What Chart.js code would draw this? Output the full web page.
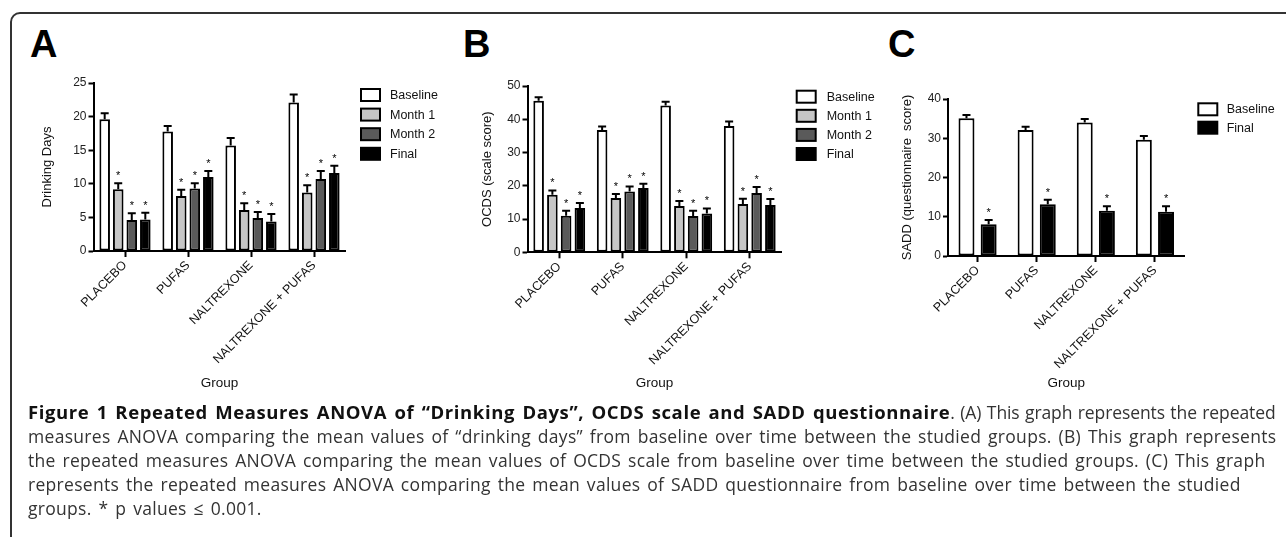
<!DOCTYPE html>
<html>
<head>
<meta charset="utf-8">
<script src="https://cdn.jsdelivr.net/npm/chart.js@4.4.1/dist/chart.umd.min.js"></script>
<style>
body { margin:0; background:#fff; width:1286px; height:537px; overflow:hidden; position:relative; font-family:'Liberation Sans', Arial, sans-serif; }
#frame { position:absolute; left:10px; top:12px; width:1400px; height:700px; border:2px solid #333; border-top-left-radius:10px; }
.letter { position:absolute; top:23px; font-weight:bold; font-size:38px; color:#000; }
canvas { position:absolute; top:0; }
#caption { position:absolute; left:28px; top:400px; font-family:'Open Sans', sans-serif; font-size:17.5px; line-height:24px; letter-spacing:0.3px; word-spacing:2px; color:#333; white-space:nowrap; }
#caption b { color:#111; font-size:18.5px; letter-spacing:0.6px; }
#caption .tight { letter-spacing:-0.1px; word-spacing:1px; }
</style>
</head>
<body>
<div id="frame"></div>
<div class="letter" style="left:30px">A</div>
<div class="letter" style="left:463px">B</div>
<div class="letter" style="left:888px">C</div>
<canvas id="chartA" width="470" height="400" style="left:0"></canvas>
<canvas id="chartB" width="470" height="400" style="left:430px"></canvas>
<canvas id="chartC" width="426" height="400" style="left:860px"></canvas>
<div id="caption"><b>Figure 1 Repeated Measures ANOVA of “Drinking Days”, OCDS scale and SADD questionnaire</b><span class="tight">. (A) This graph represents the repeated</span><br>measures ANOVA comparing the mean values of “drinking days” from baseline over time between the studied groups. (B) This graph represents<br>the repeated measures ANOVA comparing the mean values of OCDS scale from baseline over time between the studied groups. (C) This graph<br>represents the repeated measures ANOVA comparing the mean values of SADD questionnaire from baseline over time between the studied<br>groups. * p values ≤ 0.001.</div>

<script>
// groups and series
var groups = ['PLACEBO', 'PUFAS', 'NALTREXONE', 'NALTREXONE + PUFAS'];

// A: drinking days (mean and upper error)
var drinkBaseline = [19.6, 17.8, 15.7, 22.1];
var drinkBaselineErr = [0.9, 0.8, 1.1, 1.2];
var drinkMonth1 = [9.2, 8.2, 6.1, 8.7];
var drinkMonth1Err = [0.9, 0.9, 1.0, 1.1];
var drinkMonth2 = [4.6, 9.3, 4.9, 10.7];
var drinkMonth2Err = [1.0, 0.8, 0.9, 1.2];
var drinkFinal = [4.7, 11.0, 4.4, 11.6];
var drinkFinalErr = [1.0, 0.9, 1.1, 1.1];
var drinkTicks = [0, 5, 10, 15, 20, 25];

// B: OCDS scale score
var ocdsBaseline = [45.6, 36.8, 44.1, 38.0];
var ocdsBaselineErr = [1.0, 1.0, 1.2, 1.3];
var ocdsMonth1 = [17.3, 16.3, 13.9, 14.5];
var ocdsMonth1Err = [1.3, 1.2, 1.5, 1.6];
var ocdsMonth2 = [11.0, 18.3, 10.9, 17.8];
var ocdsMonth2Err = [1.5, 1.5, 1.6, 1.8];
var ocdsFinal = [13.3, 19.3, 11.7, 14.2];
var ocdsFinalErr = [1.5, 1.3, 1.5, 1.8];
var ocdsTicks = [0, 10, 20, 30, 40, 50];

// C: SADD questionnaire score
var saddBaseline = [35.1, 32.1, 34.0, 29.6];
var saddBaselineErr = [0.8, 0.8, 0.9, 1.0];
var saddFinal = [8.1, 13.2, 11.5, 11.3];
var saddFinalErr = [1.1, 1.1, 1.2, 1.4];
var saddTicks = [0, 10, 20, 30, 40];

// significance marks (* p <= 0.001)
var noStars = [0, 0, 0, 0];
var allStars = [1, 1, 1, 1];

var fills = { 'Baseline': '#ffffff', 'Month 1': '#c6c6c6', 'Month 2': '#5a5a5a', 'Final': '#000000' };
var FONT = "'Liberation Sans', Arial, sans-serif";

function series(label, data, err, stars) {
	return {
		label: label, data: data, err: err, stars: stars,
		backgroundColor: fills[label], borderColor: '#000', borderWidth: 2, borderSkipped: false
	};
}

// upper error bars + asterisks
var errorBars = {
	id: 'errorBars',
	afterDatasetsDraw: function(chart) {
		var ctx = chart.ctx, y = chart.scales.y;
		ctx.save();
		ctx.strokeStyle = '#000';
		ctx.fillStyle = '#000';
		ctx.lineWidth = 2;
		ctx.font = '11px ' + FONT;
		ctx.textAlign = 'center';
		ctx.textBaseline = 'alphabetic';
		chart.data.datasets.forEach(function(ds, i) {
			chart.getDatasetMeta(i).data.forEach(function(bar, j) {
				var top = y.getPixelForValue(ds.data[j] + ds.err[j]);
				ctx.beginPath();
				ctx.moveTo(bar.x, bar.y);
				ctx.lineTo(bar.x, top);
				ctx.moveTo(bar.x - 4, top);
				ctx.lineTo(bar.x + 4, top);
				ctx.stroke();
				if (ds.stars[j]) ctx.fillText('*', bar.x, top - 4);
			});
		});
		ctx.restore();
	}
};

// legend boxes drawn at a fixed spot
var sideLegend = {
	id: 'sideLegend',
	afterDraw: function(chart, args, o) {
		var ctx = chart.ctx;
		ctx.save();
		ctx.font = '12.5px ' + FONT;
		ctx.textBaseline = 'middle';
		chart.data.datasets.forEach(function(ds, i) {
			var cy = o.y + i * o.row;
			ctx.fillStyle = ds.backgroundColor;
			ctx.fillRect(o.x, cy - 6, 19, 12);
			ctx.strokeStyle = '#000';
			ctx.lineWidth = 2;
			ctx.strokeRect(o.x, cy - 6, 19, 12);
			ctx.fillStyle = '#111';
			ctx.fillText(ds.label, o.textX, cy + 0.5);
		});
		ctx.restore();
	}
};

function makeChart(id, datasets, ticks, yTitle, c) {
	var canvas = document.getElementById(id);
	var W = canvas.width, H = canvas.height;
	return new Chart(canvas, {
		type: 'bar',
		data: { labels: groups, datasets: datasets },
		plugins: [errorBars, sideLegend],
		options: {
			responsive: false,
			animation: false,
			categoryPercentage: c.cat,
			barPercentage: c.bar,
			layout: { padding: { left: 0, top: c.area.top, right: W - c.area.right, bottom: 0 } },
			plugins: {
				legend: { display: false },
				tooltip: { enabled: false },
				sideLegend: c.legend
			},
			scales: {
				x: {
					offset: true,
					grid: { offset: false, drawOnChartArea: false, drawTicks: true, tickLength: 6, tickWidth: 2, tickColor: '#000' },
					border: { display: true, color: '#000', width: 2 },
					ticks: { autoSkip: false, minRotation: 45, maxRotation: 45, padding: 1, color: '#111', font: { family: FONT, size: 12.5 } },
					title: { display: true, text: 'Group', color: '#111', font: { family: FONT, size: 13.5 }, padding: { top: 0, bottom: 9 } },
					afterFit: function(s) { s.height = H - c.area.bottom; }
				},
				y: {
					min: 0,
					max: ticks[ticks.length - 1],
					afterBuildTicks: function(s) { s.ticks = ticks.map(function(v) { return { value: v }; }); },
					grid: { drawOnChartArea: false, drawTicks: true, tickLength: 5, tickWidth: 2, tickColor: '#000' },
					border: { display: true, color: '#000', width: 2 },
					ticks: { padding: 2, color: '#222', font: { family: FONT, size: 12 } },
					title: { display: true, text: yTitle, color: '#111', font: { family: FONT, size: 13 }, padding: { top: c.titleX - 7.8, bottom: 0 } },
					afterFit: function(s) { s.width = c.area.left; }
				}
			}
		}
	});
}

makeChart('chartA', [
	series('Baseline', drinkBaseline, drinkBaselineErr, noStars),
	series('Month 1', drinkMonth1, drinkMonth1Err, allStars),
	series('Month 2', drinkMonth2, drinkMonth2Err, allStars),
	series('Final', drinkFinal, drinkFinalErr, allStars)
], drinkTicks, 'Drinking Days', {
	area: { left: 93.5, top: 83, right: 345.5, bottom: 251 },
	cat: 0.86, bar: 0.78, titleX: 47,
	legend: { x: 361, textX: 390, y: 95, row: 19.6 }
});

makeChart('chartB', [
	series('Baseline', ocdsBaseline, ocdsBaselineErr, noStars),
	series('Month 1', ocdsMonth1, ocdsMonth1Err, allStars),
	series('Month 2', ocdsMonth2, ocdsMonth2Err, allStars),
	series('Final', ocdsFinal, ocdsFinalErr, allStars)
], ocdsTicks, 'OCDS (scale score)', {
	area: { left: 97.5, top: 86, right: 351.5, bottom: 252.3 },
	cat: 0.866, bar: 0.77, titleX: 57,
	legend: { x: 366.7, textX: 396.7, y: 96.7, row: 19.1 }
});

makeChart('chartC', [
	series('Baseline', saddBaseline, saddBaselineErr, noStars),
	series('Final', saddFinal, saddFinalErr, allStars)
], saddTicks, 'SADD (questionnaire  score)', {
	area: { left: 88, top: 99, right: 324.5, bottom: 256 },
	cat: 0.75, bar: 0.72, titleX: 47,
	legend: { x: 338.3, textX: 366.7, y: 109.3, row: 18.4 }
});
</script>
</body>
</html>
